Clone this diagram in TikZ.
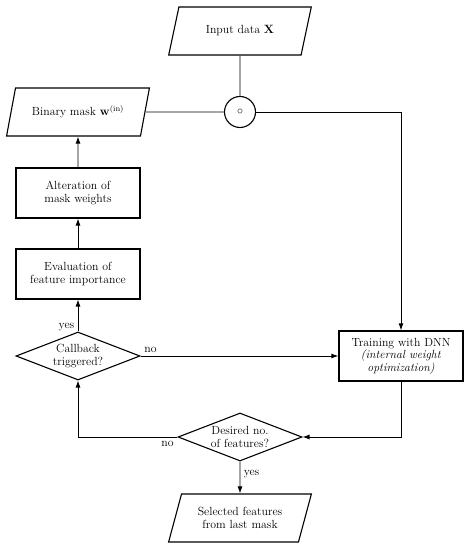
\documentclass[tikz,border=0pt]{standalone}
\usetikzlibrary{shapes.geometric,arrows.meta}
\begin{document}
\begin{tikzpicture}[x=1pt,y=1pt,line width=0.9pt,font=\fontsize{11.8}{12.6}\selectfont]

\tikzstyle{io}=[trapezium,draw,trapezium left angle=70,trapezium right angle=110,trapezium stretches=true,minimum width=143pt,minimum height=48pt,align=center,line width=1.1pt]
\tikzstyle{proc}=[rectangle,draw,minimum width=124pt,minimum height=50pt,align=center,line width=1.1pt]
\tikzstyle{decide}=[diamond,draw,aspect=2.6,minimum width=124pt,minimum height=48pt,inner sep=0pt,align=center,line width=1.1pt]
\tikzstyle{arr}=[-{Latex[length=7pt,width=5pt]},line width=0.9pt]

\useasboundingbox (0,0) rectangle (468,550);

\node[io]     (input) at (240,519) {Input data $\mathbf{X}$} ;
\node[circle,draw,minimum size=31pt,line width=1.1pt] (prod) at (240,438) {$\circ$} ;
\node[io]     (mask)  at ( 78,438) {Binary mask $\mathbf{w}^{(\mathrm{in})}$} ;
\node[proc]   (alter) at ( 78,357) {Alteration of\\mask weights} ;
\node[proc]   (eval)  at ( 78,276) {Evaluation of\\feature importance} ;
\node[decide] (cb)    at ( 78,194) {Callback\\triggered?} ;
\node[proc,line width=1.3pt] (train) at (401,194) {Training with DNN\\\textit{(internal weight}\\\textit{optimization)}} ;
\node[decide] (des)   at (240,113) {Desired no.\\of features?} ;
\node[io]     (sel)   at (240, 32) {Selected features\\from last mask} ;

\draw [line width=0.9pt] (input.south) -- (prod.north);
\draw [line width=0.9pt] (prod.west) -- (mask.east);
\draw [arr] (prod.east) -| (train.north);
\draw [arr] (alter.north) -- (mask.south);
\draw [arr] (eval.north) -- (alter.south);
\draw [arr] (cb.north) -- node[pos=0.15,left] {yes} (eval.south);
\draw [arr] (cb.east) -- node[pos=0.0,above right] {no} (train.west);
\draw [arr] (train.south) |- (des.east);
\draw [arr] (des.west) -| node[pos=0.0,below left] {no} (cb.south);
\draw [arr] (des.south) -- node[pos=0.4,right] {yes} (sel.north);

\end{tikzpicture}
\end{document}
